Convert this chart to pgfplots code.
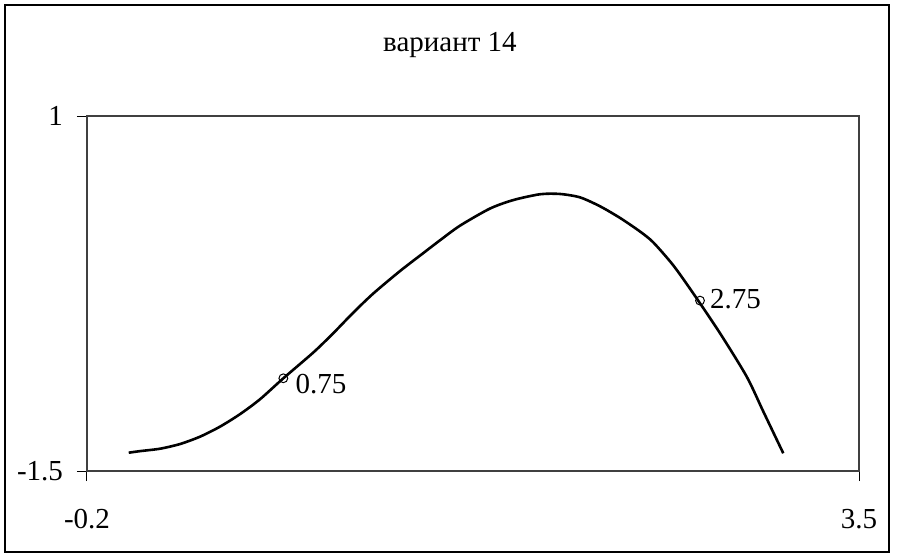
\documentclass[border=0pt]{standalone}
\usepackage{fontspec}
\setmainfont{Liberation Serif}
\usepackage{pgfplots}
\pgfplotsset{compat=1.18}
\begin{document}
\fontsize{14.5}{16}\selectfont
\begin{tikzpicture}
\path[use as bounding box] (0,0) rectangle (449pt,-278.5pt);
\draw[line width=0.8pt] (2.5pt,-2.5pt) rectangle (444.5pt,-276pt);
\node[font=\fontsize{14.5}{16}\selectfont] at (225pt,-22.5pt) {вариант 14};
\begin{axis}[
  at={(43.5pt,-235.5pt)}, anchor=south west,
  scale only axis, width=386pt, height=177.5pt,
  xmin=-0.2, xmax=3.5, ymin=-1.5, ymax=1,
  xtick={-0.2,3.5}, ytick={-1.5,1},
  xticklabels={-0.2,3.5}, yticklabels={-1.5,1},
  tick pos=left,
  tick align=outside, major tick length=5pt,
  axis line style={black!75, line width=0.6pt},
  tick style={black, line width=0.5pt},
  xticklabel style={yshift=-9pt},
  yticklabel style={xshift=-2pt},
  ticklabel style={font=\fontsize{14.5}{16}\selectfont},
  /pgf/number format/assume math mode=true,
  clip=false,
]
\addplot[black, line width=1.3pt, smooth, tension=0.45] coordinates {
(0.0,-1.371) (0.054,-1.360) (0.150,-1.343) (0.246,-1.310) (0.342,-1.258)
(0.437,-1.188) (0.533,-1.100) (0.629,-0.995) (0.741,-0.847) (0.885,-0.665)
(0.980,-0.530) (1.076,-0.385) (1.172,-0.250) (1.300,-0.092) (1.412,0.035)
(1.492,0.125) (1.588,0.228) (1.731,0.348) (1.843,0.408) (1.971,0.449)
(2.067,0.451) (2.163,0.427) (2.259,0.364) (2.355,0.282) (2.450,0.187)
(2.514,0.110) (2.610,-0.052) (2.706,-0.250) (2.834,-0.530) (2.962,-0.836)
(3.041,-1.080) (3.137,-1.375)
};
\addplot[only marks, mark=o, mark size=2.2pt, mark options={line width=0.5pt, black},
  nodes near coords, point meta=explicit symbolic,
  nodes near coords style={anchor=west, xshift=1pt, yshift=-3pt, font=\fontsize{14.5}{16}\selectfont, black}]
  table[meta=label] {
x y label
0.741 -0.847 0.75
};
\addplot[only marks, mark=o, mark size=2.2pt, mark options={line width=0.5pt, black},
  nodes near coords, point meta=explicit symbolic,
  nodes near coords style={anchor=west, xshift=0pt, yshift=1pt, font=\fontsize{14.5}{16}\selectfont, black}]
  table[meta=label] {
x y label
2.738 -0.30 2.75
};
\end{axis}
\end{tikzpicture}
\end{document}
